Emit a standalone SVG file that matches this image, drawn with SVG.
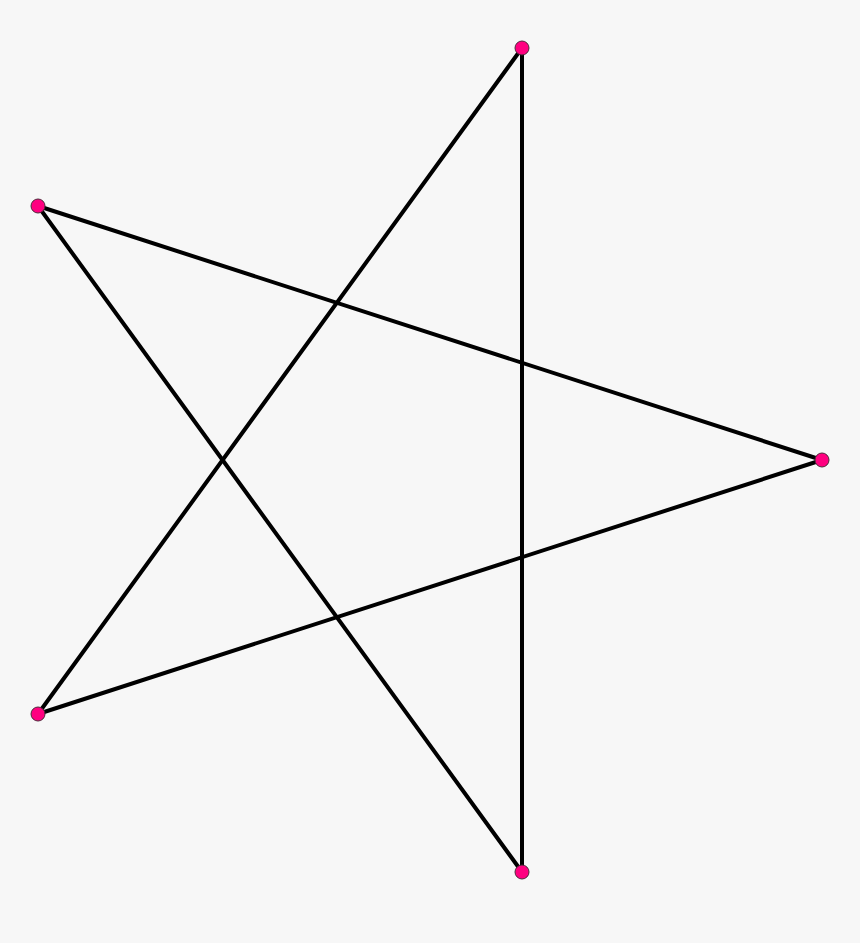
<svg xmlns="http://www.w3.org/2000/svg" width="860" height="943" viewBox="0 0 860 943">
<style>
.edge{stroke:#000;stroke-width:4;fill:none;stroke-linecap:round}
.v{fill:#ff0080;stroke:#4d2a3a;stroke-width:1}
</style>
<rect width="860" height="943" fill="#f7f7f7"/>
<g id="connectors">
<line class="edge" x1="522" y1="48" x2="522" y2="872"/>
<line class="edge" x1="522" y1="48" x2="38" y2="714"/>
<line class="edge" x1="38" y1="206" x2="822" y2="460"/>
<line class="edge" x1="822" y1="460" x2="38" y2="714"/>
<line class="edge" x1="38" y1="206" x2="522" y2="872"/>
</g>
<g id="v-top"><circle class="v" cx="522" cy="48" r="7"/></g>
<g id="v-lefttop"><circle class="v" cx="38" cy="206" r="7"/></g>
<g id="v-right"><circle class="v" cx="822" cy="460" r="7"/></g>
<g id="v-leftbottom"><circle class="v" cx="38" cy="714" r="7"/></g>
<g id="v-bottom"><circle class="v" cx="522" cy="872" r="7"/></g>
</svg>
